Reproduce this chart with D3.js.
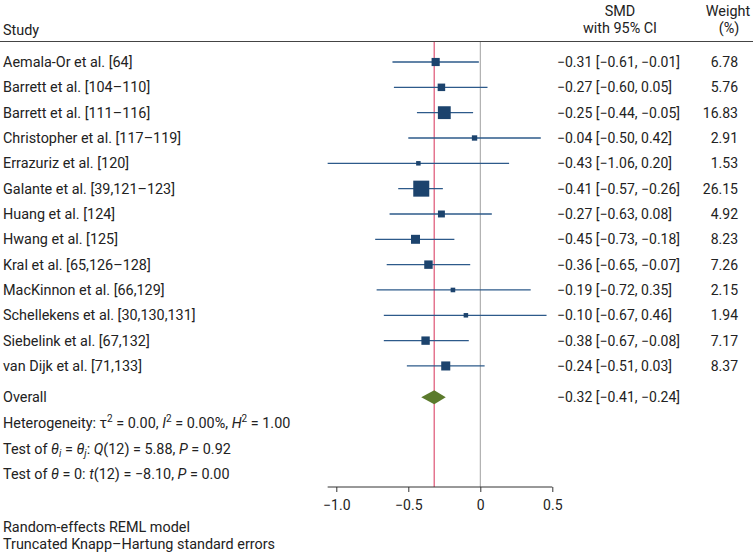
<!DOCTYPE html>
<html>
<head>
<meta charset="utf-8">
<script src="https://cdn.jsdelivr.net/npm/d3@7"></script>
<style>
  body { margin: 0; background: #fff; }
  svg { font-family: Roboto, "Noto Sans", sans-serif; font-size: 14.4px; fill: #222; }
  .num { font-size: 14px; }
  .axis text { font-size: 14px; fill: #222; }
</style>
</head>
<body>
<div id="chart"></div>
<script>
// study data
let studies = ["Aemala-Or et al. [64]", "Barrett et al. [104\u2013110]", "Barrett et al. [111\u2013116]",
  "Christopher et al. [117\u2013119]", "Errazuriz et al. [120]", "Galante et al. [39,121\u2013123]",
  "Huang et al. [124]", "Hwang et al. [125]", "Kral et al. [65,126\u2013128]", "MacKinnon et al. [66,129]",
  "Schellekens et al. [30,130,131]", "Siebelink et al. [67,132]", "van Dijk et al. [71,133]"];
let smd    = [-0.31, -0.27, -0.25, -0.04, -0.43, -0.41, -0.27, -0.45, -0.36, -0.19, -0.10, -0.38, -0.24];
let lower  = [-0.61, -0.60, -0.44, -0.50, -1.06, -0.57, -0.63, -0.73, -0.65, -0.72, -0.67, -0.67, -0.51];
let upper  = [-0.01,  0.05, -0.05,  0.42,  0.20, -0.26,  0.08, -0.18, -0.07,  0.35,  0.46, -0.08,  0.03];
let weight = [6.78, 5.76, 16.83, 2.91, 1.53, 26.15, 4.92, 8.23, 7.26, 2.15, 1.94, 7.17, 8.37];

// pooled estimate
let overall = [-0.32, -0.41, -0.24];
let ticks = [-1.0, -0.5, 0, 0.5];

let width = 753, height = 552;
let fmt = d3.format(".2f");
let m = function(v) { return fmt(v).replace("-", "\u2212"); };

let svg = d3.select("#chart").append("svg")
  .attr("width", width)
  .attr("height", height);

// scales
let x = d3.scaleLinear().domain([-1, 0.5]).range([336.3, 552.3]);
let y = d3.scaleLinear().domain([0, 1]).range([62, 87.33]);
let box = d3.scaleSqrt().domain([0, d3.max(weight)]).range([0, 16]);
let axisY = 487;

// header
svg.append("text").attr("x", 3).attr("y", 35).text("Study");
svg.append("text").attr("x", 620).attr("y", 16).attr("text-anchor", "middle").text("SMD");
svg.append("text").attr("x", 620).attr("y", 33).attr("text-anchor", "middle").text("with 95% CI");
svg.append("text").attr("x", 728).attr("y", 16).attr("text-anchor", "middle").text("Weight");
svg.append("text").attr("x", 729).attr("y", 33).attr("text-anchor", "middle").text("(%)");
svg.append("line")
  .attr("x1", 0).attr("x2", width)
  .attr("y1", 41.5).attr("y2", 41.5)
  .style("stroke", "#444").style("stroke-width", 1.2);

// reference lines
svg.append("line")
  .attr("x1", x(0)).attr("x2", x(0))
  .attr("y1", 42).attr("y2", axisY)
  .style("stroke", "#a0a0a0").style("stroke-width", 1);
svg.append("line")
  .attr("x1", x(overall[0])).attr("x2", x(overall[0]))
  .attr("y1", 42).attr("y2", axisY)
  .style("stroke", "#e0607e").style("stroke-width", 1.3);

let rows = svg.selectAll("g.row")
  .data(studies)
  .enter().append("g")
  .attr("class", "row")
  .attr("transform", function(d, i) { return "translate(0," + y(i) + ")"; });

rows.append("text").attr("x", 3).attr("y", 5).text(function(d) { return d; });

rows.append("line")
  .attr("x1", function(d, i) { return x(lower[i]); })
  .attr("x2", function(d, i) { return x(upper[i]); })
  .style("stroke", "#2d5a8a").style("stroke-width", 1.3);

rows.append("rect")
  .attr("x", function(d, i) { return x(smd[i]) - Math.max(box(weight[i]), 4.5) / 2; })
  .attr("y", function(d, i) { return -Math.max(box(weight[i]), 4.5) / 2; })
  .attr("width", function(d, i) { return Math.max(box(weight[i]), 4.5); })
  .attr("height", function(d, i) { return Math.max(box(weight[i]), 4.5); })
  .style("fill", "#1c436d");

rows.append("text").attr("class", "num").attr("x", 557).attr("y", 5)
  .text(function(d, i) { return m(smd[i]) + " [" + m(lower[i]) + ", " + m(upper[i]) + "]"; });
rows.append("text").attr("class", "num").attr("x", 738).attr("y", 5).attr("text-anchor", "end")
  .text(function(d, i) { return fmt(weight[i]); });

// overall diamond
let oy = 397.3;
svg.append("path")
  .attr("d", "M" + x(overall[1]) + "," + oy + "L" + x(overall[0]) + "," + (oy - 7) +
    "L" + x(overall[2]) + "," + oy + "L" + x(overall[0]) + "," + (oy + 7) + "Z")
  .style("fill", "#5b7a2c");
svg.append("text").attr("x", 3).attr("y", oy + 5).text("Overall");
svg.append("text").attr("class", "num").attr("x", 557).attr("y", oy + 5)
  .text(m(overall[0]) + " [" + m(overall[1]) + ", " + m(overall[2]) + "]");

// statistics lines
let stats = [
  [["Heterogeneity: \u03C4"], ["2", "sup"], [" = 0.00, "], ["I", "i"], ["2", "sup"], [" = 0.00%, "], ["H", "i"], ["2", "sup"], [" = 1.00"]],
  [["Test of "], ["\u03B8", "i"], ["i", "sub"], [" = "], ["\u03B8", "i"], ["j", "sub"], [": "], ["Q", "i"], ["(12) = 5.88, "], ["P", "i"], [" = 0.92"]],
  [["Test of "], ["\u03B8", "i"], [" = 0: "], ["t", "i"], ["(12) = \u22128.10, "], ["P", "i"], [" = 0.00"]]
];
stats.forEach(function(parts, k) {
  let t = svg.append("text").attr("x", 3).attr("y", 423 + k * 25.6 + 5);
  parts.forEach(function(p) {
    let s = t.append("tspan").text(p[0]);
    if (p[1] === "i") s.style("font-style", "italic");
    if (p[1] === "sup") s.attr("dy", -6).style("font-size", "10px").attr("class", "shift");
    if (p[1] === "sub") s.attr("dy", 3).style("font-size", "10px").style("font-style", "italic").attr("class", "shift");
  });
  // put following spans back on baseline
  t.selectAll("tspan").each(function(d, j, nodes) {
    let prev = nodes[j - 1];
    if (prev && d3.select(prev).classed("shift")) {
      d3.select(this).attr("dy", -(+d3.select(prev).attr("dy")));
    }
  });
});

// axis
let axis = svg.append("g")
  .attr("class", "axis")
  .attr("transform", "translate(0," + axisY + ")")
  .call(d3.axisBottom(x).tickValues(ticks).tickSize(5).tickSizeOuter(0)
    .tickFormat(function(d) { return d === 0 ? "0" : d3.format(".1f")(d).replace("-", "\u2212"); }));
axis.select(".domain").attr("d", "M" + x(d3.min(lower)) + ",0H" + x(0.5))
  .style("stroke", "#333");
axis.selectAll(".tick line").style("stroke", "#333");
axis.selectAll(".tick text").attr("dy", "1.1em").style("font-family", "Roboto, sans-serif");

// notes
svg.append("text").attr("x", 3).attr("y", 532).text("Random-effects REML model");
svg.append("text").attr("x", 3).attr("y", 549).text("Truncated Knapp\u2013Hartung standard errors");
</script>
</body>
</html>
